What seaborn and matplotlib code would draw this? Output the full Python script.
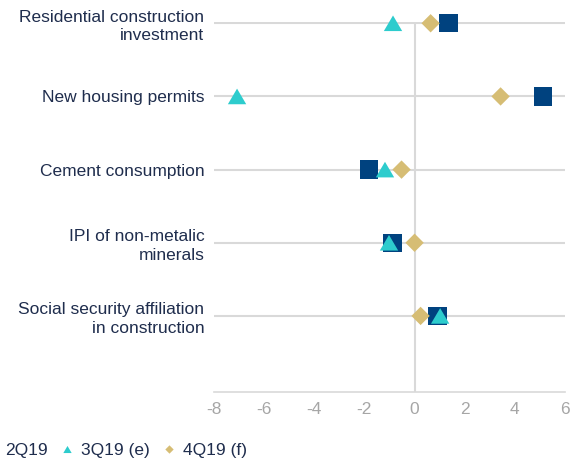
import pandas as pd
import numpy as np
import matplotlib
matplotlib.use('Agg')
import matplotlib.pyplot as plt
from matplotlib.path import Path
import seaborn as sns

# -----------------------------
# Chart data
# -----------------------------
categories = ['Residential construction\ninvestment', 'New housing permits', 'Cement consumption',
              'IPI of non-metalic\nminerals', 'Social security affiliation\nin construction']
q2_19 = [1.36, 5.11, -1.83, -0.88, 0.92]
q3_19e = [-0.86, -7.08, -1.18, -1.02, 1.02]
q4_19f = [0.64, 3.43, -0.52, 0.0, 0.24]
series_names = ['2Q19', '3Q19 (e)', '4Q19 (f)']
x_ticks = [-8, -6, -4, -2, 0, 2, 4, 6]

df = pd.concat([
    pd.DataFrame({'indicator': categories, 'value': vals, 'series': name})
    for name, vals in zip(series_names, [q2_19, q3_19e, q4_19f])
], ignore_index=True)

# -----------------------------
# Style
# -----------------------------
sns.set_style('white')
plt.rcParams['font.family'] = ['Liberation Sans', 'DejaVu Sans']
plt.rcParams['axes.unicode_minus'] = False
text_col = '#1f2d4d'
grid_col = '#d9d9d9'
tick_col = '#a6a6a6'
fs = 12.5
palette = {'2Q19': '#00427f', '3Q19 (e)': '#2dcccd', '4Q19 (f)': '#d6bd74'}
markers = {
    '2Q19': Path([(-1, -1), (1, -1), (1, 1), (-1, 1), (-1, -1)], closed=True),
    '3Q19 (e)': Path([(-1, -0.85), (1, -0.85), (0, 0.85), (-1, -0.85)], closed=True),
    '4Q19 (f)': Path([(0, 1), (1, 0), (0, -1), (-1, 0), (0, 1)], closed=True),
}

fig = plt.figure(figsize=(5.72, 4.63), dpi=100)
ax = fig.add_axes([0.3741, 0.1533, 0.6137, 0.7996])

# gridlines and zero line behind markers
ax.set_axisbelow(True)
ax.axvline(0, color=grid_col, lw=1.5, zorder=0)

sns.scatterplot(data=df, x='value', y='indicator', hue='series', style='series',
                palette=palette, markers=markers, s=175, linewidth=0, ax=ax,
                zorder=3, clip_on=False)

ax.set_xlim(-8, 6)
ax.set_ylim(5.04, -0.02)
ax.set_xticks(x_ticks)
ax.set_yticks(range(len(categories)))
ax.set_yticklabels(categories)
ax.set_xlabel('')
ax.set_ylabel('')

ax.grid(axis='y', color=grid_col, lw=1.5)
ax.grid(axis='x', visible=False)
for side in ['left', 'right', 'top']:
    ax.spines[side].set_visible(False)
ax.spines['bottom'].set_color(grid_col)
ax.spines['bottom'].set_linewidth(1.2)

ax.tick_params(axis='x', direction='in', length=4, width=1.2, color=grid_col,
               labelcolor=tick_col, labelsize=fs, pad=7)
ax.tick_params(axis='y', length=0, labelcolor=text_col, labelsize=fs, pad=7)
for lbl in ax.get_yticklabels():
    lbl.set_horizontalalignment('right')
    lbl.set_multialignment('right')
    lbl.set_linespacing(1.3)

# legend along the bottom, first marker runs off the left edge
sns.move_legend(ax, 'center left', bbox_to_anchor=(-0.036, 0.028),
                bbox_transform=fig.transFigure, ncol=3, frameon=False, title=None,
                fontsize=fs, handlelength=0.6, handletextpad=0.5,
                columnspacing=0.8, borderaxespad=0)
leg = ax.get_legend()
for h in leg.legend_handles:
    h.set_markersize(6)
for t in leg.get_texts():
    t.set_color(text_col)

plt.savefig('out.png', dpi=100)
